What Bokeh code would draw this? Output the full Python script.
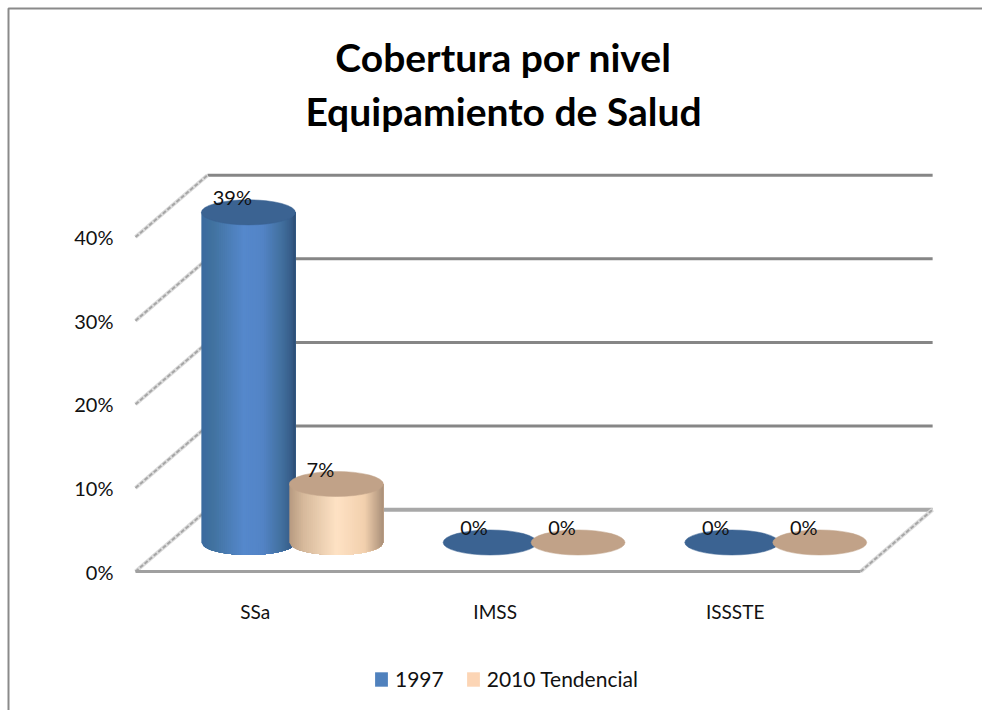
import numpy as np
from bokeh.plotting import figure
from bokeh.embed import file_html
from bokeh.resources import INLINE
from bokeh.core.properties import value
from bokeh.models import (Label, Legend, LegendItem, FixedTicker, BoxAnnotation)

categories = ["SSa", "IMSS", "ISSSTE"]
series_names = ["1997", "2010 Tendencial"]
values_1997 = [39.49, 0, 0]
values_2010 = [7, 0, 0]
y_ticks = [0, 10, 20, 30, 40]
title_lines = ["Cobertura por nivel", "Equipamiento de Salud"]

FONT = "Lato"
W, H = 982, 710
PXX, PXY = 241.7, 8.36       # pixels per category / per percent
X0, Y0 = 135, 571            # where the (0, 0%) corner lies
DX, DY = 0.298, 7.4          # oblique depth of the floor
BX, BY = 0.149, 3.47         # depth position of the cylinders
BAR_W, ELL_H = 0.389, 3.0
GROUP = 0.182

p = figure(width=W, height=H, output_backend="svg", toolbar_location=None,
           x_range=(-X0 / PXX, (W - X0) / PXX), y_range=((Y0 - H) / PXY, Y0 / PXY),
           min_border=0, background_fill_color="white", border_fill_color="white", outline_line_color=None)

# axes
p.grid.visible = False
ya = p.yaxis[0]
ya.fixed_location = -5 / PXX
ya.ticker = FixedTicker(ticks=y_ticks)
ya.major_label_overrides = {t: f"{t}%" for t in y_ticks}
ya.axis_line_color = None
ya.major_tick_line_color = None
ya.minor_tick_line_color = None
ya.major_tick_in = 0
ya.major_tick_out = 0
ya.minor_tick_in = 0
ya.minor_tick_out = 0
ya.major_label_standoff = 17
ya.major_label_text_font = FONT
ya.major_label_text_font_size = "20px"
ya.major_label_text_color = "#111111"

xa = p.xaxis[0]
xa.fixed_location = 0
tick_pos = [i * 0.993 + 0.495 for i in range(len(categories))]
xa.ticker = FixedTicker(ticks=tick_pos)
xa.major_label_overrides = dict(zip(tick_pos, categories))
xa.bounds = (0, len(categories))
xa.axis_line_color = "#a0a0a0"
xa.axis_line_width = 3
xa.major_tick_line_color = None
xa.minor_tick_line_color = None
xa.major_tick_in = 0
xa.major_tick_out = 0
xa.minor_tick_in = 0
xa.minor_tick_out = 0
xa.major_label_standoff = 28
xa.major_label_text_font = FONT
xa.major_label_text_font_size = "19px"
xa.major_label_text_color = "#111111"

n = len(categories)
# back wall gridlines
p.multi_line([[DX, n + DX] for t in y_ticks[1:]], [[t + DY, t + DY] for t in y_ticks[1:]],
             line_color="#868686", line_width=3)
p.line([DX, n + DX], [DY, DY], line_color="#a8a8a8", line_width=4)
# side wall and floor edges
side_xs = [[0, DX] for t in y_ticks] + [[n, n + DX]]
side_ys = [[t, t + DY] for t in y_ticks] + [[0, DY]]
p.multi_line(side_xs, side_ys, line_color="#dcdcdc", line_width=4)
p.multi_line(side_xs, side_ys, line_color="#a6a6a6", line_width=2, line_dash="4 2")


def mix(stops, t):
    ts = [s[0] for s in stops]
    cs = np.array([[int(s[1][i:i + 2], 16) for i in (1, 3, 5)] for s in stops], float)
    c = [np.interp(t, ts, cs[:, k]) for k in range(3)]
    return "#%02x%02x%02x" % tuple(int(round(v)) for v in c)


blue_stops = [(0, "#3a6a9f"), (0.12, "#41729f"), (0.45, "#5588cc"), (0.65, "#5384c6"), (0.85, "#42709f"), (0.96, "#365c88"), (1, "#2b4c72")]
tan_stops = [(0, "#b69a80"), (0.15, "#d6b99b"), (0.5, "#fee2c4"), (0.8, "#f2d0ae"), (1, "#a98f78")]


def cylinder(cx, val, stops, top_color):
    cx = cx + BX
    if val > 0:
        N = 48
        edges = np.linspace(-1, 1, N + 1)
        xs, ys, cols = [], [], []
        # painted left to right, each strip reaching the right side, so no seams show
        for k in range(N):
            arc = edges[k:]
            arc_x = cx + arc * BAR_W / 2
            arc_y = BY - ELL_H / 2 * np.sqrt(np.clip(1 - arc * arc, 0, 1))
            xs.append(list(arc_x) + [cx + BAR_W / 2, arc_x[0]])
            ys.append(list(arc_y) + [BY + val, BY + val])
            cols.append(mix(stops, (k + 0.5) / N))
        p.patches(xs, ys, fill_color=cols, line_color=None)
    p.ellipse([cx], [BY + val], width=BAR_W, height=ELL_H, fill_color=top_color, line_color=top_color, line_width=0.5)
    return cx


label_x, label_y, label_t = [], [], []
for i in range(n):
    for off, series, stops, top in ((-GROUP, values_1997, blue_stops, "#3b6392"),
                                    (GROUP, values_2010, tan_stops, "#c1a288")):
        c = cylinder(i + 0.5 + off, series[i], stops, top)
        label_x.append(c)
        label_y.append(BY + series[i])
        label_t.append(f"{int(series[i])}%")

p.text(label_x, label_y, text=label_t, x_offset=-16, y_offset=-15, text_align="center",
       text_baseline="middle", text_font=value(FONT), text_font_size="20px", text_color="#111111")

# legend
r1 = p.quad(left=[0], right=[0], top=[0], bottom=[0], fill_color="#4f81bd", line_color=None)
r2 = p.quad(left=[0], right=[0], top=[0], bottom=[0], fill_color="#fcd5b5", line_color=None)
legend = Legend(items=[LegendItem(label=series_names[0], renderers=[r1]),
                       LegendItem(label=series_names[1], renderers=[r2])],
                orientation="horizontal", location=(373, 19), background_fill_alpha=0,
                border_line_color=None, glyph_width=16, glyph_height=18, label_standoff=6,
                spacing=21, margin=0, padding=0, label_text_font=FONT, label_text_font_size="21px",
                label_text_color="#111111")
p.add_layout(legend, "center")

# title
for line, y in zip(title_lines, (654, 600)):
    p.add_layout(Label(x=503, y=y, x_units="screen", y_units="screen", text=line, text_align="center",
                       text_baseline="middle", text_font=FONT, text_font_style="bold",
                       text_font_size="39px", text_color="#000000"))

# chart area border (top and left visible)
p.add_layout(BoxAnnotation(left=8, right=2000, top=8, bottom=2000, left_units="canvas", right_units="canvas",
                           top_units="canvas", bottom_units="canvas", fill_alpha=0, line_color="#8a8a8a",
                           line_alpha=1, line_width=2, level="underlay"))

open("out.html", "w").write(file_html(p, INLINE))
